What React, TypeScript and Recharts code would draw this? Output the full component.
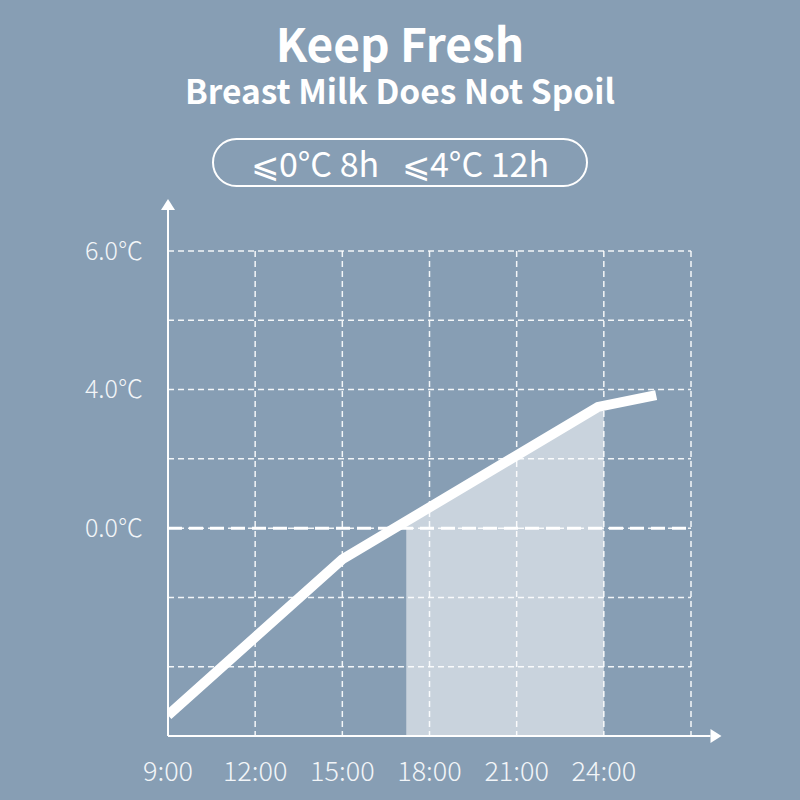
import React from "react";
import {
  ComposedChart,
  Line,
  Area,
  XAxis,
  YAxis,
  CartesianGrid,
  ReferenceLine,
} from "recharts";

// x in hours, y in grid steps (the picture's temperature axis is not linear)
const lineHours = [9, 15, 23.8, 25.8];
const lineLevels = [0.3, 2.55, 4.75, 4.92];

const shadeHours = [17.2, 24];
const shadeLevels = [3.05, 4.78];

const xTicks = [9, 12, 15, 18, 21, 24, 27];
const xLabels = ["9:00", "12:00", "15:00", "18:00", "21:00", "24:00", ""];

const yTicks = [0, 1, 2, 3, 4, 5, 6, 7];
const yLabels = ["", "", "", "0.0℃", "", "4.0℃", "", "6.0℃"];

const lineData = lineHours.map((h, i) => ({ h, v: lineLevels[i] }));
const shadeData = shadeHours.map((h, i) => ({ h, s: shadeLevels[i] }));

const BG = "#879eb4";
const FONT = '"Noto Sans CJK SC", "Noto Sans", sans-serif';

function ArrowLine(props: any) {
  const { x1, y1, x2, y2 } = props;
  const dx = x2 - x1;
  const dy = y2 - y1;
  const len = Math.sqrt(dx * dx + dy * dy) || 1;
  const ux = dx / len;
  const uy = dy / len;
  const head = 11;
  const half = 7;
  const bx = x2 - ux * head;
  const by = y2 - uy * head;
  const pts = `${x2},${y2} ${bx - uy * half},${by + ux * half} ${bx + uy * half},${by - ux * half}`;
  return (
    <g>
      <line x1={x1} y1={y1} x2={bx} y2={by} stroke="#ffffff" strokeWidth={2} />
      <polygon points={pts} fill="#ffffff" />
    </g>
  );
}

export default function App() {
  return (
    <div
      style={{
        position: "absolute",
        left: 0,
        top: 0,
        width: 800,
        height: 800,
        background: BG,
        fontFamily: FONT,
        color: "#ffffff",
        overflow: "hidden",
      }}
    >
      <div
        style={{
          position: "absolute",
          top: 22,
          width: 800,
          textAlign: "center",
          fontSize: 46,
          fontWeight: 700,
          lineHeight: "40px",
        }}
      >
        Keep Fresh
      </div>
      <div
        style={{
          position: "absolute",
          top: 74,
          width: 800,
          textAlign: "center",
          fontSize: 33.5,
          fontWeight: 700,
          lineHeight: "32px",
        }}
      >
        Breast Milk Does Not Spoil
      </div>
      <div
        style={{
          position: "absolute",
          left: 212,
          top: 138,
          width: 372,
          height: 45,
          border: "2px solid #ffffff",
          borderRadius: 26,
          display: "flex",
          alignItems: "center",
          justifyContent: "center",
          fontSize: 34,
          whiteSpace: "pre",
        }}
      >
        ⩽0°C 8h   ⩽4°C 12h
      </div>

      <div style={{ position: "absolute", left: 0, top: 0 }}>
        <ComposedChart
          width={800}
          height={800}
          margin={{ top: 251, right: 109, bottom: 0, left: 0 }}
        >
          <CartesianGrid
            stroke="#ffffff"
            strokeOpacity={0.9}
            strokeWidth={1.5}
            strokeDasharray="6 4"
          />
          <XAxis
            dataKey="h"
            type="number"
            domain={[9, 27]}
            ticks={xTicks}
            allowDataOverflow
            height={64}
            axisLine={false}
            tickLine={false}
            tickSize={0}
            tickMargin={26}
            tickFormatter={(v: number) => xLabels[xTicks.indexOf(v)] ?? ""}
            tick={{ fill: "#f2f5f8", fontSize: 27, fontWeight: 300, fontFamily: FONT }}
          />
          <YAxis
            type="number"
            domain={[0, 7]}
            ticks={yTicks}
            allowDataOverflow
            width={168}
            axisLine={false}
            tickLine={false}
            tickSize={0}
            tickMargin={25}
            tickFormatter={(v: number) => yLabels[yTicks.indexOf(v)] ?? ""}
            tick={{ fill: "#f2f5f8", fontSize: 25, fontWeight: 300, fontFamily: FONT }}
          />
          <ReferenceLine
            y={3}
            stroke="#ffffff"
            strokeWidth={3}
            strokeDasharray="14 7"
          />
          <Area
            data={shadeData}
            dataKey="s"
            type="linear"
            stroke="none"
            fill="#ffffff"
            fillOpacity={0.55}
            baseValue={0}
            isAnimationActive={false}
          />
          <Line
            data={lineData}
            dataKey="v"
            type="linear"
            stroke="#ffffff"
            strokeWidth={10}
            strokeLinejoin="miter"
            strokeLinecap="butt"
            dot={false}
            activeDot={false}
            isAnimationActive={false}
          />
          <ReferenceLine
            segment={[{ x: 9, y: 0 }, { x: 9, y: 7.75 }]}
            ifOverflow="visible"
            shape={ArrowLine}
          />
          <ReferenceLine
            segment={[{ x: 9, y: 0 }, { x: 28.05, y: 0 }]}
            ifOverflow="visible"
            shape={ArrowLine}
          />
        </ComposedChart>
      </div>
    </div>
  );
}
